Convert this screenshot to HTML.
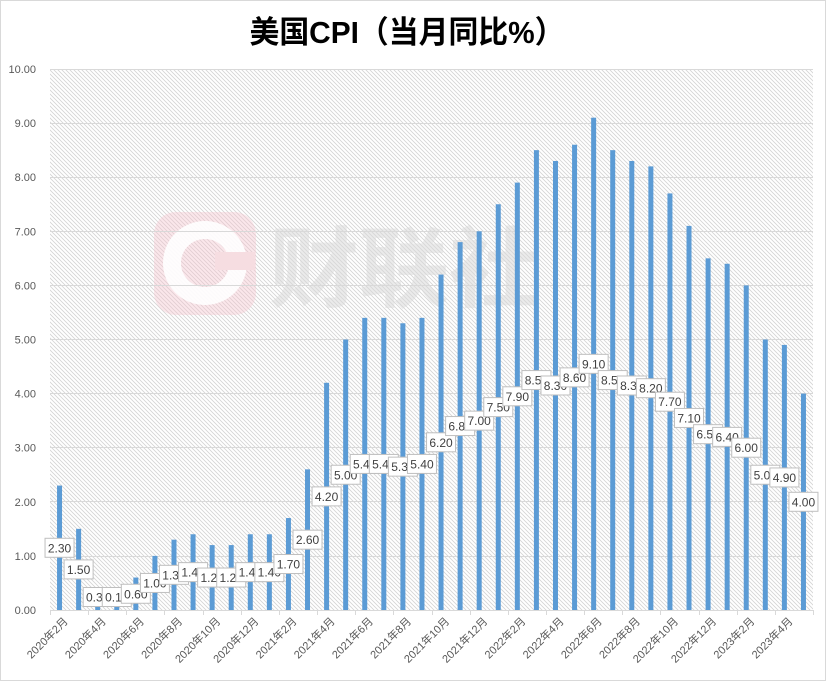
<!DOCTYPE html>
<html><head><meta charset="utf-8"><style>
html,body{margin:0;padding:0;background:#fff}
svg{display:block}
</style></head><body>
<svg width="830" height="682" viewBox="0 0 830 682" xmlns="http://www.w3.org/2000/svg">
<defs>
<pattern id="h" patternUnits="userSpaceOnUse" width="4" height="4">
<rect width="4" height="4" fill="#fff"/>
<path d="M-1,-1 L5,5 M-1,3 L1,5 M3,-1 L5,1" stroke="#d4d4d4" stroke-width="0.8"/>
</pattern>
</defs>
<rect x="0.5" y="0.5" width="825" height="680" fill="#fff" stroke="#d9d9d9"/>
<text x="407" y="43" text-anchor="middle" font-family="'Liberation Sans','Noto Sans CJK SC',sans-serif" font-size="31" font-weight="bold" fill="#000" textLength="315" lengthAdjust="spacingAndGlyphs">美国CPI（当月同比%）</text>
<rect x="50" y="69" width="763" height="541" fill="url(#h)"/>
<!-- watermark -->
<rect x="154" y="212" width="102" height="103" rx="22" fill="#f4c4cc" opacity="0.4"/>
<circle cx="205" cy="263" r="33" fill="none" stroke="#fff" stroke-width="18" opacity="0.9"/>
<rect x="215" y="252" width="40" height="18" fill="#f6dde1"/>
<text x="404" y="300" text-anchor="middle" font-family="'Noto Sans CJK SC',sans-serif" font-size="88" font-weight="bold" fill="#d8d8d8" opacity="0.5" textLength="270" lengthAdjust="spacingAndGlyphs">财联社</text>
<g stroke="#d9d9d9" stroke-width="1">
<line x1="50" x2="813" y1="69.5" y2="69.5"/><line x1="50" x2="813" y1="123.5" y2="123.5"/><line x1="50" x2="813" y1="177.5" y2="177.5"/><line x1="50" x2="813" y1="231.5" y2="231.5"/><line x1="50" x2="813" y1="285.5" y2="285.5"/><line x1="50" x2="813" y1="339.5" y2="339.5"/><line x1="50" x2="813" y1="393.5" y2="393.5"/><line x1="50" x2="813" y1="447.5" y2="447.5"/><line x1="50" x2="813" y1="501.5" y2="501.5"/><line x1="50" x2="813" y1="556.5" y2="556.5"/>
</g>
<g font-family="'Liberation Sans',sans-serif" font-size="11" fill="#595959" text-anchor="end" id="yl"></g>
<g id="bars" fill="#5b9bd5"></g>
<line x1="50" x2="813" y1="610.5" y2="610.5" stroke="#d9d9d9"/>
<g id="ticks" stroke="#d9d9d9"></g>
<g id="labels"></g>
<g id="xl" font-family="'Liberation Sans','Noto Sans CJK SC',sans-serif" font-size="11" fill="#595959" text-anchor="end"></g>
</svg>
<script>
var v=[2.3,1.5,0.3,0.1,0.6,1.0,1.3,1.4,1.2,1.2,1.4,1.4,1.7,2.6,4.2,5.0,5.4,5.4,5.3,5.4,6.2,6.8,7.0,7.5,7.9,8.5,8.3,8.6,9.1,8.5,8.3,8.2,7.7,7.1,6.5,6.4,6.0,5.0,4.9,4.0];
var NS="http://www.w3.org/2000/svg";
function el(t,a,p,txt){var e=document.createElementNS(NS,t);for(var k in a)e.setAttribute(k,a[k]);if(txt!=null)e.textContent=txt;p.appendChild(e);return e;}
var y0=610,s=54.1,cw=19.075;
var yl=document.getElementById('yl');
for(var i=0;i<=10;i++)el('text',{x:36,y:y0-i*s+4},yl,i.toFixed(2));
var B=document.getElementById('bars'),L=document.getElementById('labels'),X=document.getElementById('xl'),T=document.getElementById('ticks');
for(var i=0;i<v.length;i++){
 var cx=50+cw*(i+0.5);
 el('rect',{x:cx-2.5,y:y0-v[i]*s,width:5,height:v[i]*s},B);
}
for(var i=0;i<=40;i+=2){var tx=Math.round(50+cw*i)+0.5;el('line',{x1:tx,x2:tx,y1:610,y2:615},T);}
for(var i=0;i<v.length;i++){
 var cx=50+cw*(i+0.5),cy=Math.min(597,y0-v[i]*s/2);
 var g=el('g',{},L);
 el('rect',{x:cx-14.5,y:cy-9.5,width:29,height:19,fill:'#fff',stroke:'#bfbfbf'},g);
 el('text',{x:cx,y:cy+4.5,'text-anchor':'middle','font-family':"'Liberation Sans',sans-serif",'font-size':12,fill:'#404040'},g,v[i].toFixed(2));
}
for(var i=0;i<v.length;i+=2){
 var m=(i+1)%12+1,yr=2020+Math.floor((i+1)/12);
 var cx=50+cw*(i+0.5)+9,ty=622;
 el('text',{x:cx,y:ty,transform:'rotate(-45 '+cx+' '+ty+')'},X,yr+'年'+m+'月');
}
</script>
</body></html>
